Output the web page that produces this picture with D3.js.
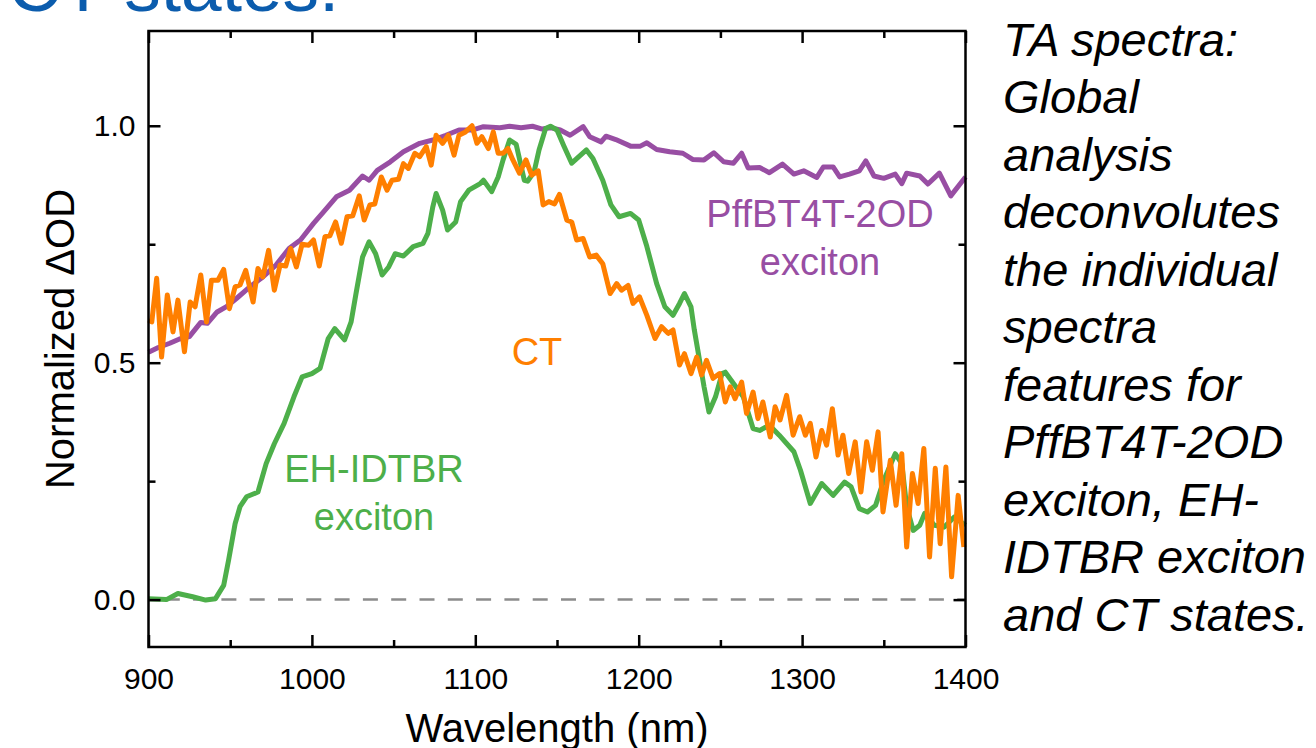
<!DOCTYPE html>
<html>
<head>
<meta charset="utf-8">
<script src="https://cdn.jsdelivr.net/npm/d3@7/dist/d3.min.js"></script>
<style>
    html, body { margin: 0; padding: 0; background: #fff; }
    svg { display: block; font-family: "Liberation Sans", Arial, sans-serif; }
</style>
</head>
<body>
<div id="chart"></div>
<script>
// spectra: [wavelength (nm), normalized dOD]
let pffbtExciton = [
    [900, 0.522], [906, 0.532], [913, 0.541], [919, 0.55], [925, 0.555], [932, 0.585], [936, 0.583],
    [942, 0.607], [948, 0.619], [954, 0.636], [962, 0.66], [970, 0.681], [978, 0.706], [986, 0.741],
    [993, 0.759], [1001, 0.794], [1007, 0.818], [1015, 0.85], [1023, 0.864], [1031, 0.894], [1035, 0.885],
    [1040, 0.906], [1048, 0.924], [1056, 0.945], [1066, 0.963], [1074, 0.97], [1082, 0.98], [1090, 0.991],
    [1098, 0.991], [1105, 0.998], [1115, 0.996], [1121, 0.999], [1128, 0.996], [1135, 0.999], [1141, 0.993],
    [1146, 0.996], [1152, 0.991], [1158, 0.98], [1166, 0.998], [1170, 0.977], [1177, 0.966], [1180, 0.978],
    [1186, 0.971], [1195, 0.957], [1201, 0.957], [1205, 0.964], [1211, 0.95], [1219, 0.945], [1227, 0.942],
    [1233, 0.929], [1240, 0.928], [1246, 0.943], [1252, 0.924], [1258, 0.921], [1263, 0.942], [1267, 0.911],
    [1274, 0.912], [1280, 0.901], [1288, 0.919], [1295, 0.898], [1301, 0.905], [1309, 0.891], [1313, 0.913],
    [1319, 0.913], [1323, 0.892], [1329, 0.898], [1335, 0.905], [1339, 0.926], [1344, 0.894], [1350, 0.889],
    [1357, 0.898], [1361, 0.878], [1364, 0.9], [1372, 0.894], [1377, 0.877], [1384, 0.9], [1391, 0.852],
    [1400, 0.892],
];

let idtbrExciton = [
    [900, 0.002], [911, 0.0], [918, 0.013], [927, 0.006], [935, -0.001], [941, 0.002], [946, 0.03],
    [949, 0.083], [953, 0.16], [956, 0.196], [960, 0.217], [967, 0.227], [972, 0.287], [977, 0.329],
    [983, 0.372], [989, 0.428], [994, 0.47], [1000, 0.477], [1005, 0.488], [1010, 0.551], [1014, 0.572],
    [1020, 0.548], [1024, 0.586], [1027, 0.646], [1031, 0.723], [1035, 0.755], [1039, 0.73], [1043, 0.685],
    [1047, 0.702], [1051, 0.73], [1056, 0.725], [1062, 0.745], [1068, 0.752], [1071, 0.773], [1074, 0.829],
    [1076, 0.857], [1080, 0.822], [1083, 0.78], [1088, 0.797], [1091, 0.84], [1096, 0.864], [1103, 0.878],
    [1105, 0.885], [1110, 0.861], [1114, 0.892], [1117, 0.928], [1121, 0.97], [1125, 0.961], [1130, 0.885],
    [1132, 0.883], [1136, 0.903], [1139, 0.949], [1143, 0.994], [1146, 0.999], [1150, 0.991], [1154, 0.959],
    [1159, 0.921], [1168, 0.949], [1172, 0.931], [1178, 0.885], [1183, 0.833], [1188, 0.808], [1195, 0.815],
    [1200, 0.801], [1205, 0.745], [1211, 0.667], [1216, 0.618], [1221, 0.6], [1225, 0.625], [1228, 0.646],
    [1232, 0.618], [1234, 0.57], [1236, 0.53], [1240, 0.449], [1243, 0.396], [1247, 0.428], [1251, 0.477],
    [1253, 0.48], [1258, 0.456], [1264, 0.428], [1270, 0.361], [1274, 0.357], [1280, 0.368], [1286, 0.347],
    [1295, 0.312], [1299, 0.273], [1305, 0.203], [1312, 0.245], [1319, 0.22], [1326, 0.248], [1330, 0.238],
    [1335, 0.192], [1340, 0.185], [1345, 0.199], [1350, 0.252], [1357, 0.308], [1361, 0.287], [1364, 0.196],
    [1368, 0.146], [1372, 0.157], [1375, 0.182], [1381, 0.157], [1387, 0.153], [1393, 0.174], [1400, 0.157],
];

let ctState = [
    [900, 0.59], [902, 0.586], [905, 0.678], [908, 0.512], [911.5, 0.643], [915, 0.565], [918, 0.632],
    [922, 0.523], [925.5, 0.628], [928.5, 0.618], [932, 0.685], [935.5, 0.586], [938.5, 0.674], [942.5, 0.674],
    [946, 0.697], [949.5, 0.614], [953, 0.66], [956, 0.664], [959.5, 0.695], [964, 0.628], [967, 0.699],
    [970, 0.681], [973.5, 0.737], [977, 0.653], [980.5, 0.706], [984, 0.704], [987, 0.741], [990.5, 0.702],
    [994, 0.75], [998, 0.748], [1001, 0.759], [1004.5, 0.704], [1008, 0.766], [1011, 0.768], [1014.5, 0.797],
    [1018, 0.752], [1021.5, 0.808], [1025, 0.81], [1029, 0.852], [1032, 0.801], [1035.5, 0.833], [1038.5, 0.835],
    [1042.5, 0.892], [1046, 0.864], [1049, 0.885], [1053, 0.887], [1056, 0.92], [1059, 0.91], [1063, 0.942],
    [1066, 0.935], [1070, 0.956], [1073, 0.917], [1076, 0.98], [1080, 0.963], [1083.5, 0.98], [1087, 0.938],
    [1090, 0.98], [1094, 0.987], [1098, 1.0], [1101, 0.963], [1104, 0.977], [1108, 0.952], [1111, 0.987],
    [1114, 0.942], [1117, 0.942], [1120, 0.952], [1123, 0.928], [1127, 0.9], [1131, 0.928], [1134.5, 0.896],
    [1138.5, 0.905], [1141.5, 0.833], [1145, 0.84], [1148.5, 0.835], [1151.5, 0.855], [1156, 0.801],
    [1159, 0.797], [1162, 0.759], [1166, 0.762], [1170, 0.723], [1174, 0.727], [1178, 0.709], [1182.5, 0.646],
    [1186.5, 0.667], [1189.5, 0.653], [1193.5, 0.663], [1196.5, 0.625], [1200.5, 0.639], [1205, 0.6],
    [1210, 0.551], [1214, 0.576], [1218, 0.562], [1221, 0.569], [1225, 0.495], [1228, 0.519], [1232, 0.477],
    [1235.5, 0.512], [1238.5, 0.474], [1241.5, 0.505], [1245.5, 0.467], [1249.5, 0.477], [1253, 0.417],
    [1256, 0.449], [1259, 0.424], [1263, 0.459], [1266, 0.393], [1270, 0.438], [1273, 0.382], [1276, 0.417],
    [1280.5, 0.343], [1283.5, 0.407], [1286.5, 0.379], [1290.5, 0.431], [1294.5, 0.347], [1298.5, 0.386],
    [1302, 0.347], [1305, 0.372], [1308.5, 0.301], [1312, 0.357], [1315, 0.326], [1318.5, 0.403], [1322, 0.305],
    [1325, 0.347], [1328.5, 0.266], [1332.5, 0.333], [1336, 0.227], [1339.5, 0.333], [1343, 0.273],
    [1346.5, 0.354], [1349.5, 0.185], [1354, 0.294], [1357.5, 0.199], [1361, 0.308], [1364, 0.111],
    [1367.5, 0.266], [1371, 0.203], [1374.5, 0.319], [1378, 0.09], [1381.5, 0.277], [1384.5, 0.118],
    [1388, 0.28], [1391.5, 0.048], [1395.5, 0.22], [1399, 0.111],
];

let xTicks = [900, 1000, 1100, 1200, 1300, 1400];
let xMinorTicks = [950, 1050, 1150, 1250, 1350];
let yTicks = [0.0, 0.5, 1.0];
let yMinorTicks = [0.25, 0.75];

let sideNote = [
    "TA spectra:", "Global", "analysis", "deconvolutes", "the individual", "spectra",
    "features for", "PffBT4T-2OD", "exciton, EH-", "IDTBR exciton", "and CT states.",
];

let settings = {
    width: 1316,
    height: 748,
    left: 148.5,
    right: 965.5,
    top: 31,
    bottom: 647,
    font: "\"Liberation Sans\", Arial, sans-serif",
};

let colors = {
    pffbt: "#984ea3",
    idtbr: "#4daf4a",
    ct: "#ff7f00",
    title: "#0b5cad",
};

let svg = d3.select("#chart").append("svg")
    .attr("width", settings.width)
    .attr("height", settings.height);

let x = d3.scaleLinear().domain([900, 1400]).range([settings.left, settings.right]);
let y = d3.scaleLinear().domain([-0.1, 1.2]).range([settings.bottom, settings.top]);

// title, cut off at the top of the slide like the original
svg.append("text")
    .attr("x", 8)
    .attr("y", 11)
    .attr("font-size", 73)
    .attr("fill", colors.title)
    .text("CT states.");

// zero line
svg.append("line")
    .attr("x1", x(900)).attr("x2", x(1400))
    .attr("y1", y(0)).attr("y2", y(0))
    .attr("stroke", "#8c8c8c")
    .attr("stroke-width", 2.5)
    .attr("stroke-dasharray", "15,13.3")
    .attr("stroke-dashoffset", 12);

let line = d3.line()
    .x(d => x(d[0]))
    .y(d => y(d[1]));

let series = [
    { data: pffbtExciton, color: colors.pffbt },
    { data: idtbrExciton, color: colors.idtbr },
    { data: ctState, color: colors.ct },
];

svg.append("g").selectAll("path")
    .data(series)
    .enter().append("path")
    .attr("fill", "none")
    .attr("stroke", d => d.color)
    .attr("stroke-width", 5)
    .attr("stroke-linejoin", "round")
    .attr("d", d => line(d.data));

function styleAxis(g) {
    g.select(".domain").remove();
    g.selectAll(".tick line").attr("stroke", "#000").attr("stroke-width", 2.5);
    g.selectAll("text")
        .attr("fill", "#000")
        .attr("font-size", 30)
        .attr("font-family", settings.font);
}

// major + minor ticks, all pointing inward
svg.append("g")
    .attr("transform", "translate(0," + settings.bottom + ")")
    .call(d3.axisBottom(x).tickValues(xTicks).tickSize(-12).tickPadding(21).tickFormat(d3.format("d")))
    .call(styleAxis);
svg.append("g")
    .attr("transform", "translate(0," + settings.bottom + ")")
    .call(d3.axisBottom(x).tickValues(xMinorTicks).tickSize(-7).tickFormat(""))
    .call(styleAxis);
svg.append("g")
    .attr("transform", "translate(0," + settings.top + ")")
    .call(d3.axisTop(x).tickValues(xTicks).tickSize(-12).tickFormat(""))
    .call(styleAxis);
svg.append("g")
    .attr("transform", "translate(0," + settings.top + ")")
    .call(d3.axisTop(x).tickValues(xMinorTicks).tickSize(-7).tickFormat(""))
    .call(styleAxis);

svg.append("g")
    .attr("transform", "translate(" + settings.left + ",0)")
    .call(d3.axisLeft(y).tickValues(yTicks).tickSize(-12).tickPadding(13).tickFormat(d3.format(".1f")))
    .call(styleAxis);
svg.append("g")
    .attr("transform", "translate(" + settings.left + ",0)")
    .call(d3.axisLeft(y).tickValues(yMinorTicks).tickSize(-7).tickFormat(""))
    .call(styleAxis);
svg.append("g")
    .attr("transform", "translate(" + settings.right + ",0)")
    .call(d3.axisRight(y).tickValues(yTicks).tickSize(-12).tickFormat(""))
    .call(styleAxis);
svg.append("g")
    .attr("transform", "translate(" + settings.right + ",0)")
    .call(d3.axisRight(y).tickValues(yMinorTicks).tickSize(-7).tickFormat(""))
    .call(styleAxis);

// frame
svg.append("rect")
    .attr("x", settings.left)
    .attr("y", settings.top)
    .attr("width", settings.right - settings.left)
    .attr("height", settings.bottom - settings.top)
    .attr("fill", "none")
    .attr("stroke", "#000")
    .attr("stroke-width", 2.5);

// axis titles (x title runs off the bottom edge, as in the original)
svg.append("text")
    .attr("x", 557)
    .attr("y", 742)
    .attr("text-anchor", "middle")
    .attr("font-size", 40)
    .text("Wavelength (nm)");

svg.append("text")
    .attr("transform", "translate(74,339) rotate(-90)")
    .attr("text-anchor", "middle")
    .attr("font-size", 40)
    .text("Normalized \u0394OD");

// curve labels
let labels = [
    { lines: ["PffBT4T-2OD", "exciton"], x: 820, y: 227, color: colors.pffbt },
    { lines: ["CT"], x: 537, y: 365, color: colors.ct },
    { lines: ["EH-IDTBR", "exciton"], x: 374, y: 482, color: colors.idtbr },
];

for (let lab of labels) {
    lab.lines.forEach((t, i) => {
        svg.append("text")
            .attr("x", lab.x)
            .attr("y", lab.y + i * 48)
            .attr("text-anchor", "middle")
            .attr("font-size", 38)
            .attr("fill", lab.color)
            .text(t);
    });
}

// note on the right side of the slide
svg.append("g").selectAll("text")
    .data(sideNote)
    .enter().append("text")
    .attr("x", 1003)
    .attr("y", (d, i) => 55.5 + i * 57.5)
    .attr("font-size", 47)
    .attr("font-style", "italic")
    .attr("fill", "#000")
    .text(d => d);
</script>
</body>
</html>
